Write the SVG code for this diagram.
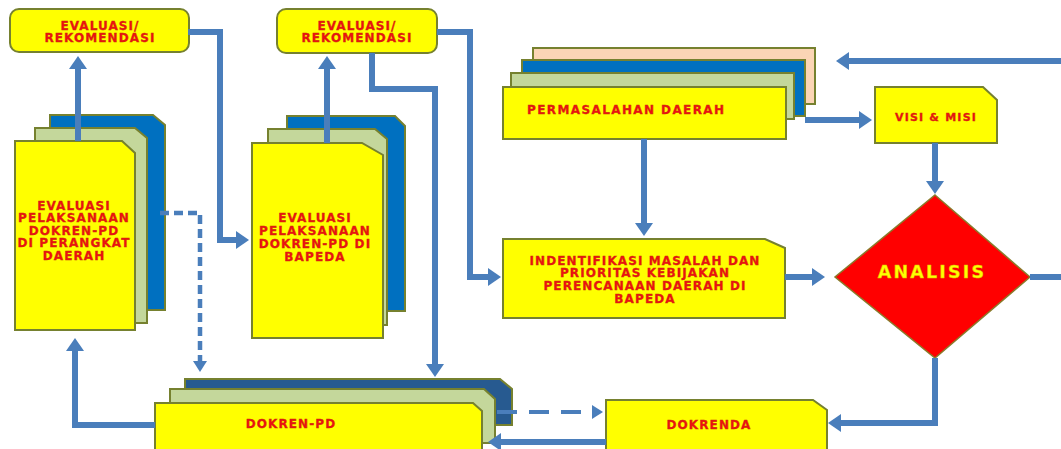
<svg xmlns="http://www.w3.org/2000/svg" width="1061" height="449" viewBox="0 0 1061 449">
<style>
.y{fill:#ffff00;stroke:#76812f;stroke-width:2}
.g{fill:#c4d79b;stroke:#76812f;stroke-width:2}
.b{fill:#0070c0;stroke:#76812f;stroke-width:2}
.nb{fill:#275a90;stroke:#76812f;stroke-width:2}
.p{fill:#fbd5b5;stroke:#76812f;stroke-width:2}
.d{fill:#ff0000;stroke:#8a7a2a;stroke-width:1.5}
.t{font-family:"DejaVu Sans",Verdana,sans-serif;font-weight:bold;font-size:12px;letter-spacing:1.1px;fill:#ee1111;stroke:#c8300c;stroke-width:0.35px;text-anchor:middle}
.ta{font-family:"DejaVu Sans",Verdana,sans-serif;font-weight:bold;font-size:17.5px;letter-spacing:2.2px;fill:#ffff00;stroke:#d8c000;stroke-width:0.4px;text-anchor:middle}
.c{fill:none;stroke:#4a7ebb;stroke-width:6}
.dv{fill:none;stroke:#4a7ebb;stroke-width:4.5;stroke-dasharray:9 5}
.dh{fill:none;stroke:#4a7ebb;stroke-width:4;stroke-dasharray:20 12}
</style>
<defs>
<marker id="ah" viewBox="0 0 13 18" markerWidth="13" markerHeight="18" markerUnits="userSpaceOnUse" refX="1" refY="9" orient="auto"><path d="M0,0 L13,9 L0,18 Z" fill="#4a7ebb"/></marker>
<marker id="as" viewBox="0 0 11 14" markerWidth="11" markerHeight="14" markerUnits="userSpaceOnUse" refX="1" refY="7" orient="auto"><path d="M0,0 L11,7 L0,14 Z" fill="#4a7ebb"/></marker>
</defs>
<rect width="1061" height="449" fill="#ffffff"/>

<g id="eval-rek-1">
<rect class="y" x="10" y="9" width="179" height="43" rx="9"/>
<text class="t" x="100" y="29.5">EVALUASI/</text>
<text class="t" x="100" y="41.5">REKOMENDASI</text>
</g>

<g id="eval-rek-2">
<rect class="y" x="277" y="9" width="160" height="44" rx="9"/>
<text class="t" x="357" y="30">EVALUASI/</text>
<text class="t" x="357" y="42">REKOMENDASI</text>
</g>

<g id="eval-perangkat">
<path class="b" d="M50,115 H153 L165,125 V310 H50 Z"/>
<path class="g" d="M35,128 H135 L147,138 V323 H35 Z"/>
<path class="y" d="M15,141 H122 L135,153 V330 H15 Z"/>
<text class="t" x="74" y="209.5">EVALUASI</text>
<text class="t" x="74" y="222">PELAKSANAAN</text>
<text class="t" x="74" y="234.5">DOKREN-PD</text>
<text class="t" x="74" y="247">DI PERANGKAT</text>
<text class="t" x="74" y="260">DAERAH</text>
</g>

<g id="eval-bapeda">
<path class="b" d="M287,116 H395 L405,126 V311 H287 Z"/>
<path class="g" d="M268,129 H375 L387,139 V325 H268 Z"/>
<path class="y" d="M252,143 H362 L383,155 V338 H252 Z"/>
<text class="t" x="315" y="222">EVALUASI</text>
<text class="t" x="315" y="235">PELAKSANAAN</text>
<text class="t" x="315" y="247.5">DOKREN-PD DI</text>
<text class="t" x="315" y="261">BAPEDA</text>
</g>

<g id="permasalahan">
<rect class="p" x="533" y="48" width="282" height="56"/>
<rect class="b" x="522" y="60" width="283" height="56"/>
<rect class="g" x="511" y="73" width="283" height="46"/>
<rect class="y" x="503" y="87" width="283" height="52"/>
<text class="t" x="527" y="114" style="text-anchor:start;letter-spacing:1.4px">PERMASALAHAN DAERAH</text>
</g>

<g id="visi-misi">
<path class="y" d="M875,87 H983 L997,100 V143 H875 Z"/>
<text class="t" x="936" y="121" style="font-size:11px;letter-spacing:1.2px">VISI &amp; MISI</text>
</g>

<g id="identifikasi">
<path class="y" d="M503,239 H765 L785,248 V318 H503 Z"/>
<text class="t" x="645" y="265">INDENTIFIKASI MASALAH DAN</text>
<text class="t" x="645" y="277">PRIORITAS KEBIJAKAN</text>
<text class="t" x="645" y="290">PERENCANAAN  DAERAH DI</text>
<text class="t" x="645" y="303">BAPEDA</text>
</g>

<g id="analisis">
<path class="d" d="M935,195 L1030,277 L935,358 L835,277 Z"/>
<text class="ta" x="932" y="278">ANALISIS</text>
</g>

<g id="dokren-pd">
<path class="nb" d="M185,379 H500 L512,389 V425 H185 Z"/>
<path class="g" d="M170,389 H484 L495,399 V443 H170 Z"/>
<path class="y" d="M155,403 H473 L482,411 V452 H155 Z"/>
<text class="t" x="291" y="428">DOKREN-PD</text>
</g>

<g id="dokrenda">
<path class="y" d="M606,400 H813 L827,410 V452 H606 Z"/>
<text class="t" x="709" y="429">DOKRENDA</text>
</g>

<g id="connectors">
<path class="c" d="M78,141 V68" marker-end="url(#ah)"/>
<path class="c" d="M188,32 H220 V240 H237" marker-end="url(#ah)"/>
<path class="c" d="M327,143 V68" marker-end="url(#ah)"/>
<path class="c" d="M372,53 V89 H435 V365" marker-end="url(#ah)"/>
<path class="c" d="M437,32 H470 V277 H489" marker-end="url(#ah)"/>
<path class="c" d="M644,139 V224" marker-end="url(#ah)"/>
<path class="c" d="M805,120 H860" marker-end="url(#ah)"/>
<path class="c" d="M935,143 V182" marker-end="url(#ah)"/>
<path class="c" d="M785,277 H813" marker-end="url(#ah)"/>
<path class="c" d="M1030,277 H1066 V61 H848" marker-end="url(#ah)"/>
<path class="c" d="M935,358 V423 H840" marker-end="url(#ah)"/>
<path class="c" d="M606,442 H500" marker-end="url(#ah)"/>
<path class="c" d="M155,425 H75 V350" marker-end="url(#ah)"/>
<path class="dv" d="M160,213 H200 V362" marker-end="url(#as)"/>
<path class="dh" d="M497,412 H593" marker-end="url(#as)"/>
</g>
</svg>
